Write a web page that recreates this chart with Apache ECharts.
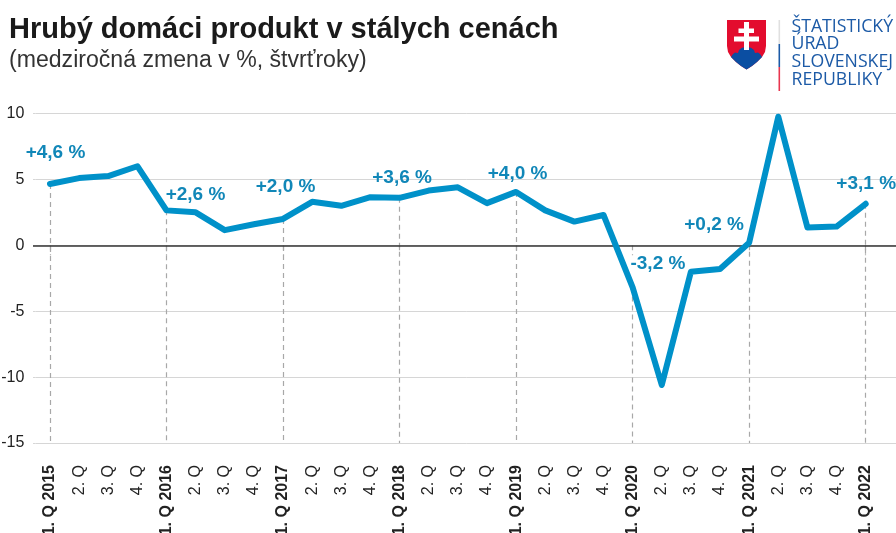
<!DOCTYPE html>
<html><head><meta charset="utf-8">
<style>html,body{margin:0;padding:0;background:#fff}#c{width:896px;height:533px}</style>
<script src="https://cdn.jsdelivr.net/npm/echarts@6/dist/echarts.min.js"></script>
</head><body><div id="c"></div>
<script>
const categories = ['1. Q 2015','2. Q','3. Q','4. Q','1. Q 2016','2. Q','3. Q','4. Q','1. Q 2017','2. Q','3. Q','4. Q','1. Q 2018','2. Q','3. Q','4. Q','1. Q 2019','2. Q','3. Q','4. Q','1. Q 2020','2. Q','3. Q','4. Q','1. Q 2021','2. Q','3. Q','4. Q','1. Q 2022',''];
const values = [4.65,5.1,5.25,6.0,2.65,2.5,1.15,1.6,2.0,3.3,3.0,3.65,3.6,4.15,4.4,3.2,4.05,2.65,1.8,2.3,-3.2,-10.6,-2.0,-1.8,0.2,9.75,1.35,1.42,3.15];
const labelTexts = {0:'+4,6 %',4:'+2,6 %',8:'+2,0 %',12:'+3,6 %',16:'+4,0 %',20:'-3,2 %',24:'+0,2 %',28:'+3,1 %'};
const labelOffsets = {0:[6,-30.5],4:[29.5,-15.5],8:[3,-31.5],12:[3,-19.5],16:[2,-17.5],20:[25.8,-23],24:[-34.6,-17.5],28:[1,-19.5]};
const titleText = 'Hrubý domáci produkt v stálych cenách';
const subtitleText = '(medziročná zmena v %, štvrťroky)';
const logoLines = ['ŠTATISTICKÝ','ÚRAD','SLOVENSKEJ','REPUBLIKY'];
const FONT = '"Liberation Sans", Arial, sans-serif';
const isYearStart = i => i % 4 === 0 && i < 29;

const chart = echarts.init(document.getElementById('c'), null, {renderer:'canvas'});
const dropLines = values.map((v,i)=>i).filter(isYearStart).map(i=>[
  {xAxis:i, yAxis:values[i]}, {xAxis:i, yAxis:-15}
]);
chart.setOption({
  animation:false,
  backgroundColor:'#fff',
  title:[
    {text:titleText,left:9,top:15,padding:0,textStyle:{fontFamily:FONT,fontSize:29,fontWeight:'bold',color:'#1a1a1a'}},
    {text:subtitleText,left:9,top:49,padding:0,textStyle:{fontFamily:FONT,fontSize:23.1,fontWeight:'normal',color:'#333'}}
  ],
  grid:{left:35.4,top:113.5,width:874,height:329.5,containLabel:false,outerBoundsMode:'none'},
  xAxis:{
    type:'category',boundaryGap:true,
    data:categories.map((c,i)=>({value:c,textStyle:{fontWeight:isYearStart(i)?'bold':'normal'}})),
    axisLine:{show:false},
    axisTick:{show:true,alignWithLabel:true,length:10,interval:(i)=>isYearStart(i),lineStyle:{color:'#a8a8a8',width:1.2,type:[5,4]}},
    axisLabel:{interval:0,rotate:90,margin:22,fontFamily:FONT,fontSize:16,color:'#222',hideOverlap:false},
    splitLine:{show:false}
  },
  yAxis:{
    type:'value',min:-15,max:10,interval:5,
    axisLine:{show:false},
    axisTick:{show:true,length:2.4,lineStyle:{color:'#d6d6d6'}},
    axisLabel:{margin:11,fontFamily:FONT,fontSize:16,color:'#222'},
    splitLine:{show:true,lineStyle:{color:'#d6d6d6',width:1}}
  },
  series:[
    {type:'line',data:[],z:1,silent:true,
      markLine:{silent:true,z:1,symbol:'none',animation:false,label:{show:false},
        lineStyle:{color:'#a8a8a8',width:1.2,type:[5,4]},
        data:[...dropLines,
          [{x:33,yAxis:0,lineStyle:{color:'#333',width:1.5,type:'solid'}},{x:896,yAxis:0}]]}},
    {type:'line',z:3,clip:false,showSymbol:true,showAllSymbol:true,symbol:'circle',symbolSize:1,
      itemStyle:{color:'#0091c9'},
      data:values.map((v,i)=>({value:v,
        label: labelTexts[i]?{show:true,formatter:labelTexts[i],position:labelOffsets[i],align:'center',verticalAlign:'middle'}:{show:false}})),
      lineStyle:{color:'#0091c9',width:6,cap:'round',join:'round'},
      label:{fontFamily:FONT,fontSize:19,fontWeight:'bold',color:'#1187b8'},
      labelLayout:{hideOverlap:false}
    }
  ],
  graphic:[
    {type:'polygon',shape:{points:[[727,20],[766,20],[766,46],[765,52],[762,57],[757,62],[752,66],[746.5,69.5],[741,66],[736,62],[731,57],[728,52],[727,46]]},style:{fill:'#e30c2e'}},
    {type:'polygon',shape:{points:[[731,57],[733,54],[735,52.5],[738,53],[739,50],[742,47.8],[746.5,47],[751,47.8],[754,50],[755,53],[758,52.5],[760,54],[762,57],[757,62],[752,66],[746.5,69.5],[741,66],[736,62]]},style:{fill:'#0b4ea2'}},
    {type:'polygon',shape:{points:[[744,22],[749,22],[749,28.5],[754,28.5],[754,33],[749,33],[749,36.5],[759,36.5],[759,41.5],[749,41.5],[749,50],[744,50],[744,41.5],[734,41.5],[734,36.5],[744,36.5],[744,33],[738.5,33],[738.5,28.5],[744,28.5]]},style:{fill:'#fff'}},
    {type:'rect',shape:{x:778.5,y:20,width:1.6,height:24},style:{fill:'#e0e0e0'}},
    {type:'rect',shape:{x:778.5,y:44,width:1.6,height:23},style:{fill:'#1c5aa6'}},
    {type:'rect',shape:{x:778.5,y:67,width:1.6,height:24},style:{fill:'#e8364f'}},
    ...logoLines.map((t,i)=>({type:'text',left:791.5,top:17.5+i*17.7,
      style:{text:t,fontFamily:'"Open Sans","Noto Sans",sans-serif',fontSize:17.7,fontWeight:500,fill:'#1c5aa6'}}))
  ]
});
</script></body></html>
